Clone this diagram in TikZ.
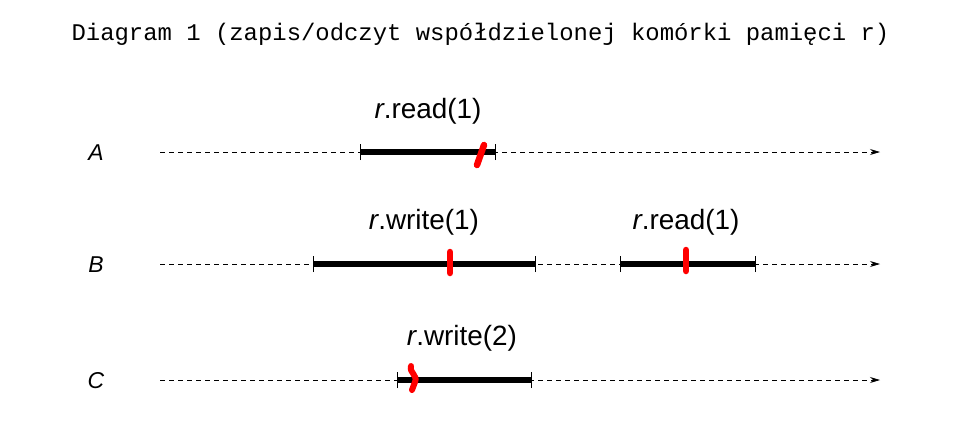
\documentclass[tikz,border=0pt]{standalone}
\usepackage{fontspec}
\setmainfont{Liberation Sans}
\newfontfamily\monofont{Liberation Mono}
\usetikzlibrary{arrows.meta}
\tikzset{
  timeline/.style={dash pattern=on 5bp off 4bp, line width=0.8bp, -{Stealth[length=10bp,width=6bp]}},
  opbar/.style={line width=5.5bp},
  tick/.style={line width=1bp},
  redmark/.style={red, line width=6.5bp, line cap=round, line join=round},
  oplabel/.style={font=\fontsize{28}{31}\selectfont, anchor=base},
  proclabel/.style={font=\fontsize{23}{27}\selectfont\itshape, anchor=base},
}
\begin{document}
\begin{tikzpicture}[x=1bp,y=-1bp]
\useasboundingbox (0,0) rectangle (961,432);
\node[font=\monofont\fontsize{24}{28}\selectfont, anchor=base] (title) at (480.5,40) {Diagram 1 (zapis/odczyt współdzielonej komórki pamięci r)};

% process A
\node[proclabel] (A) at (96,160) {A};
\coordinate (As) at (160,152);
\coordinate (Ae) at (880,152);
\draw[timeline] (As) -- (Ae);
\coordinate (a1) at (360,152);
\coordinate (a2) at (495,152);
\draw[opbar] (a1) -- (a2);
\draw[tick] ([yshift=-8bp]a1) -- ([yshift=8bp]a1);
\draw[tick] ([yshift=-8bp]a2) -- ([yshift=8bp]a2);
\node[oplabel] (la) at (428,118) {\textit{r}.read(1)};
\coordinate (ra1) at (484,145);
\coordinate (ra2) at (477,165);
\draw[redmark] (ra1) -- (ra2);

% process B
\node[proclabel] (B) at (96,272) {B};
\coordinate (Bs) at (160,264);
\coordinate (Be) at (880,264);
\draw[timeline] (Bs) -- (Be);
\coordinate (b1) at (313,264);
\coordinate (b2) at (535,264);
\draw[opbar] (b1) -- (b2);
\draw[tick] ([yshift=-8bp]b1) -- ([yshift=8bp]b1);
\draw[tick] ([yshift=-8bp]b2) -- ([yshift=8bp]b2);
\node[oplabel] (lb1) at (424,229) {\textit{r}.write(1)};
\coordinate (rb1) at (450,252);
\coordinate (rb2) at (450,273);
\draw[redmark] (rb1) -- (rb2);

\coordinate (b3) at (620,264);
\coordinate (b4) at (755,264);
\draw[opbar] (b3) -- (b4);
\draw[tick] ([yshift=-8bp]b3) -- ([yshift=8bp]b3);
\draw[tick] ([yshift=-8bp]b4) -- ([yshift=8bp]b4);
\node[oplabel] (lb2) at (686,229) {\textit{r}.read(1)};
\coordinate (rb3) at (686,250);
\coordinate (rb4) at (686,271);
\draw[redmark] (rb3) -- (rb4);

% process C
\node[proclabel] (C) at (96,388) {C};
\coordinate (Cs) at (160,380);
\coordinate (Ce) at (880,380);
\draw[timeline] (Cs) -- (Ce);
\coordinate (c1) at (397,380);
\coordinate (c2) at (531,380);
\draw[opbar] (c1) -- (c2);
\draw[tick] ([yshift=-8bp]c1) -- ([yshift=8bp]c1);
\draw[tick] ([yshift=-8bp]c2) -- ([yshift=8bp]c2);
\node[oplabel] (lc) at (462,345) {\textit{r}.write(2)};
\coordinate (rc1) at (411,366);
\coordinate (rc2) at (412,390);
\draw[redmark, line width=6bp] (rc1) .. controls (409,373) and (418,375) .. (415,382) .. controls (414,386) .. (rc2);
\end{tikzpicture}
\end{document}
